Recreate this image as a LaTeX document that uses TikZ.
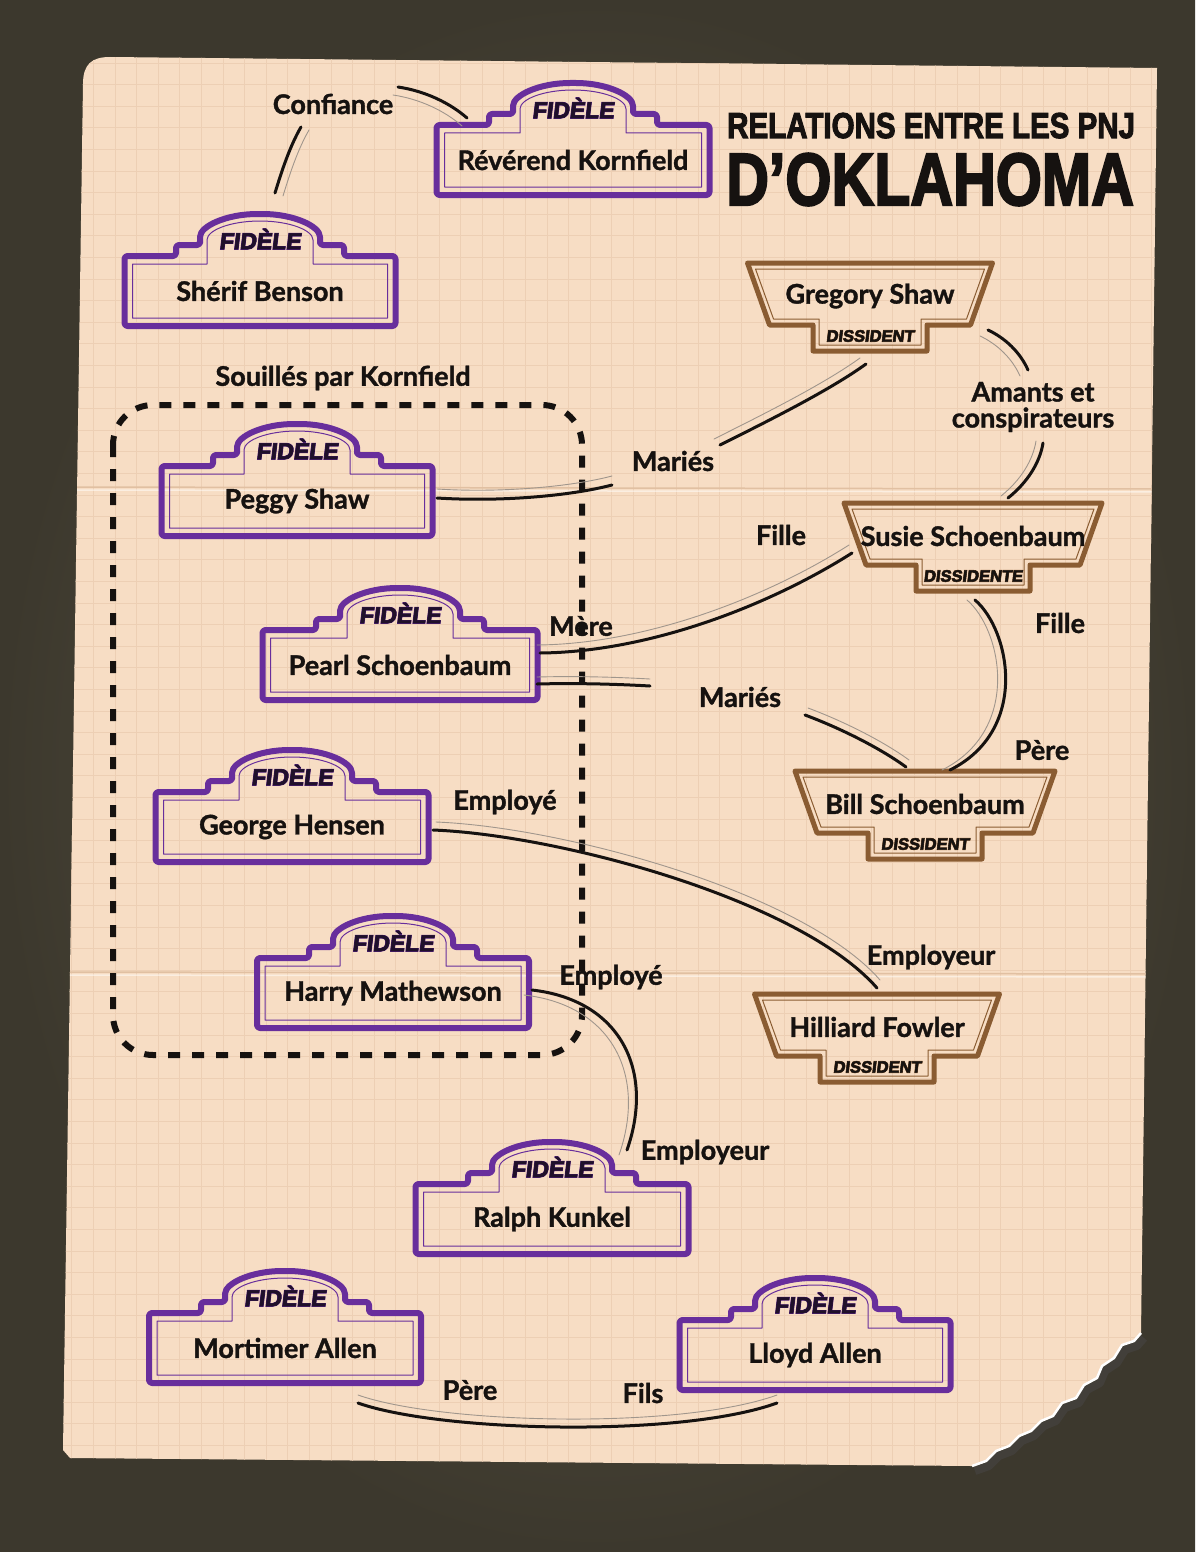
\documentclass[tikz,border=0pt]{standalone}
\usepackage{graphicx}
\usepackage{fontspec}
\setmainfont{Lato}[BoldFeatures={FakeBold=1.3}]
\newfontfamily\heavyfont{Liberation Sans}[FakeBold=2,FakeSlant=0.12]
\newfontfamily\heavyoutline{Liberation Sans}[FakeBold=5,FakeSlant=0.12]
\newfontfamily\titlefont{Liberation Sans}[FakeBold=3]
\usetikzlibrary{calc}
\definecolor{paper}{RGB}{247,221,196}
\definecolor{gridc}{RGB}{237,207,180}
\definecolor{foldc}{RGB}{225,192,162}
\definecolor{bgl}{RGB}{98,92,74}
\definecolor{bgd}{RGB}{60,56,45}
\definecolor{purp}{RGB}{104,46,156}
\definecolor{purpd}{RGB}{84,34,130}
\definecolor{brn}{RGB}{138,92,50}
\definecolor{ink}{RGB}{22,18,16}
\definecolor{fidink}{RGB}{32,16,42}
\definecolor{thinc}{RGB}{160,150,140}
\definecolor{shadowc}{RGB}{66,63,58}

\def\tornpts{(1141,1333) -- (1134,1341) -- (1122,1345) -- (1114,1358) -- (1102,1366) -- (1097,1378) -- (1084,1385) -- (1076,1398) -- (1062,1403) -- (1053,1416) -- (1041,1421) -- (1031,1431) -- (1019,1436) -- (1009,1446) -- (996,1451) -- (986,1461) -- (972,1466)}
\def\paperpath{(83,84) .. controls (83,64) and (92,57) .. (110,57) -- (1157,68) -- (1141,1333) -- (1134,1341) -- (1122,1345) -- (1114,1358) -- (1102,1366) -- (1097,1378) -- (1084,1385) -- (1076,1398) -- (1062,1403) -- (1053,1416) -- (1041,1421) -- (1031,1431) -- (1019,1436) -- (1009,1446) -- (996,1451) -- (986,1461) -- (972,1466) -- (70,1458) -- (63,1450) -- cycle}

% #1 id, #2 cx, #3 top, #4 width, #5 name
\newcommand\fidele[5]{%
 \begin{scope}[shift={(#2,#3)}]
 \pgfmathsetmacro\hw{#4/2}
 \draw[purp, line width=6pt, line join=round, rounded corners=3pt]
  ({-\hw},70) -- ({-\hw},0) -- (-84,0) -- (-84,-11) -- (-60,-11) -- (-60,-16)
  .. controls (-60,-30) and (-33,-42) .. (0,-42)
  .. controls (33,-42) and (60,-30) .. (60,-16)
  -- (60,-11) -- (84,-11) -- (84,0) -- ({\hw},0) -- ({\hw},70) -- cycle;
 \draw[purp, line width=1pt, line join=round]
  ({-\hw+8},62) -- ({-\hw+8},8) -- (-53,8) -- (-53,-16)
  .. controls (-53,-26) and (-29,-35) .. (0,-35)
  .. controls (29,-35) and (53,-26) .. (53,-16)
  -- (53,8) -- ({\hw-8},8) -- ({\hw-8},62) -- cycle;
 \node[fidout] at (0,-17) {FIDÈLE};
 \node[fidtxt] at (0,-17) {FIDÈLE};
 \node[namefont, minimum width=#4, minimum height=70, inner sep=0pt] (#1) at (0,35) {#5};
 \end{scope}}

% #1 id, #2 cx, #3 top, #4 top width, #5 name, #6 label
\newcommand\dissident[6]{%
 \begin{scope}[shift={(#2,#3)}]
 \pgfmathsetmacro\hw{#4/2}
 \draw[brn, line width=5pt, line join=round]
  ({-\hw},0) -- ({\hw},0) -- ({\hw-22},62) -- (57,62) -- (57,88) -- (-57,88) -- (-57,62) -- ({-\hw+22},62) -- cycle;
 \draw[brn, line width=1pt, line join=round]
  ({-\hw+8},6) -- ({\hw-8},6) -- ({\hw-26},56) -- (51,56) -- (51,82) -- (-51,82) -- (-51,56) -- ({-\hw+26},56) -- cycle;
 \node[dsout] at (0,73) {#6};
 \node[dstxt] at (0,73) {#6};
 \node[namefont, minimum width=#4, minimum height=62, inner sep=0pt] (#1) at (0,33) {#5};
 \end{scope}}

% connector: start, c1, c2, end, offset of thin companion line
\newcommand\cnx[5]{%
 \draw[connthin] ($#1+#5$) .. controls ($#2+#5$) and ($#3+#5$) .. ($#4+#5$);
 \draw[conn] #1 .. controls #2 and #3 .. #4;}

\begin{document}
\begin{tikzpicture}[x=1pt,y=-1pt,
  namefont/.style={font=\fontsize{27}{30}\selectfont\bfseries, text=ink},
  lab/.style={font=\fontsize{27}{30}\selectfont\bfseries, text=ink, inner sep=1pt},
  fidtxt/.style={font=\heavyfont\bfseries\fontsize{23}{24}\selectfont, text=fidink, inner sep=0pt},
  fidout/.style={font=\heavyoutline\bfseries\fontsize{23}{24}\selectfont, text=purpd, inner sep=0pt},
  dstxt/.style={font=\heavyfont\bfseries\fontsize{16.5}{17}\selectfont, text=ink, inner sep=0pt},
  dsout/.style={font=\heavyoutline\bfseries\fontsize{16.5}{17}\selectfont, text=brn, inner sep=0pt},
  conn/.style={ink, line width=3pt, line cap=round},
  connthin/.style={thinc, line width=0.9pt, line cap=round},
  titlestyle/.style={anchor=base west, inner sep=0pt, text=ink},
]
\useasboundingbox (0,0) rectangle (1195,1552);
% background
\shade[inner color=bgl, outer color=bgd] (0,0) rectangle (1195,1552);
% torn edge shadow
\draw[shadowc, line width=8pt, line join=round, shift={(3,5)}] \tornpts;
% paper
\fill[paper] \paperpath;
\begin{scope}
 \clip \paperpath;
 \foreach \i in {0,...,52} \draw[gridc, line width=0.9pt] ({71.8+\i*21.6},0) -- ({71.8+\i*21.6},1552);
 \foreach \j in {0,...,72} \draw[gridc, line width=0.9pt] (0,{-1.8+\j*21.6}) -- (1195,{-1.8+\j*21.6});
 \draw[foldc, line width=1.5pt] (60,487) -- (1160,489);
 \draw[white, opacity=0.5, line width=1.5pt] (60,490) -- (1160,492);
 \draw[foldc, line width=1.5pt] (60,972) -- (1160,974);
 \draw[white, opacity=0.5, line width=1.5pt] (60,975) -- (1160,977);
\end{scope}
\draw[white, line width=2.5pt, line join=round] \tornpts;

% title
\node[titlestyle] (title1) at (727,138) {\titlefont\bfseries\fontsize{36}{36}\selectfont\scalebox{0.82}[1]{RELATIONS ENTRE LES PNJ}};
\node[titlestyle] (title2) at (726,205) {\titlefont\bfseries\fontsize{74}{74}\selectfont\scalebox{0.80}[1]{D’OKLAHOMA}};

% dashed group
\draw[ink, line width=6pt, dash pattern=on 12pt off 12pt, rounded corners=40pt] (113,405) rectangle (582,1055);
\node[lab] (lsouil) at (343,378) {Souillés par Kornfield};

% fidele nodes
\fidele{rk}{573}{125}{273}{Révérend Kornfield}
\fidele{sb}{260}{256}{271}{Shérif Benson}
\fidele{ps}{297}{466}{271}{Peggy Shaw}
\fidele{pe}{400}{630}{275}{Pearl Schoenbaum}
\fidele{gh}{292}{792}{273}{George Hensen}
\fidele{hm}{393}{958}{272}{Harry Mathewson}
\fidele{rkk}{552}{1184}{273}{Ralph Kunkel}
\fidele{ma}{285}{1313}{272}{Mortimer Allen}
\fidele{la}{815}{1320}{271}{Lloyd Allen}

% dissident nodes
\dissident{gs}{870}{263}{245}{Gregory Shaw}{DISSIDENT}
\dissident{ss}{973}{503}{258}{Susie Schoenbaum}{DISSIDENTE}
\dissident{bs}{925}{771}{260}{Bill Schoenbaum}{DISSIDENT}
\dissident{hf}{877}{994}{245}{Hilliard Fowler}{DISSIDENT}

% labels
\node[lab] (lconf) at (333,104) {Confiance};
\node[lab] (lmar1) at (673,461) {Mariés};
\node[lab, align=center, font=\fontsize{27}{26}\selectfont\bfseries] (lam) at (1033,407) {Amants et\\conspirateurs};
\node[lab] (lfil1) at (781,535) {Fille};
\node[lab] (lmere) at (581,626) {Mère};
\node[lab] (lmar2) at (740,697) {Mariés};
\node[lab] (lfil2) at (1060,623) {Fille};
\node[lab] (lpere1) at (1042,750) {Père};
\node[lab] (lemp1) at (505,802) {Employé};
\node[lab] (lempr1) at (931,957) {Employeur};
\node[lab] (lemp2) at (611,977) {Employé};
\node[lab] (lempr2) at (705,1152) {Employeur};
\node[lab] (lpere2) at (470,1390) {Père};
\node[lab] (lfils) at (643,1393) {Fils};

% connector end points
\coordinate (sbT) at (275,193);  \coordinate (confL) at (301,127);
\coordinate (confR) at (398,87); \coordinate (rkW) at (467,118);
\coordinate (psE) at (437,498);  \coordinate (mar1L) at (612,485);
\coordinate (mar1R) at (720,445); \coordinate (gsB) at (866,364);
\coordinate (gsE) at (988,330);  \coordinate (amT) at (1028,370);
\coordinate (amB) at (1043,443); \coordinate (ssT) at (1008,498);
\coordinate (peE) at (540,653);  \coordinate (ssW) at (852,553);
\coordinate (peE2) at (537,684); \coordinate (mar2L) at (650,686);
\coordinate (mar2R) at (805,715); \coordinate (bsT) at (906,767);
\coordinate (ssB) at (975,600);  \coordinate (bsT2) at (950,770);
\coordinate (ghE) at (433,830);  \coordinate (hfT) at (877,988);
\coordinate (hmE) at (532,990);  \coordinate (rkkT) at (627,1150);
\coordinate (maB) at (358,1403); \coordinate (laB) at (777,1403);

% connectors
\cnx{(sbT)}{(282,170)}{(290,146)}{(confL)}{(8,3)}
\cnx{(confR)}{(425,91)}{(450,103)}{(rkW)}{(-5,8)}
\cnx{(psE)}{(500,502)}{(570,496)}{(mar1L)}{(0,-9)}
\cnx{(mar1R)}{(770,420)}{(830,390)}{(gsB)}{(-6,-6)}
\cnx{(gsE)}{(1005,338)}{(1020,352)}{(amT)}{(-8,6)}
\cnx{(amB)}{(1040,462)}{(1028,482)}{(ssT)}{(-7,-2)}
\cnx{(peE)}{(650,652)}{(770,605)}{(ssW)}{(-3,-8)}
\cnx{(peE2)}{(575,683)}{(615,684)}{(mar2L)}{(0,-7)}
\cnx{(mar2R)}{(840,728)}{(880,748)}{(bsT)}{(3,-7)}
\cnx{(ssB)}{(1010,630)}{(1030,730)}{(bsT2)}{(-8,0)}
\cnx{(ghE)}{(560,835)}{(800,900)}{(hfT)}{(3,-8)}
\cnx{(hmE)}{(620,1000)}{(655,1070)}{(rkkT)}{(-8,5)}
\cnx{(maB)}{(440,1432)}{(680,1438)}{(laB)}{(0,-8)}
\end{tikzpicture}
\end{document}
